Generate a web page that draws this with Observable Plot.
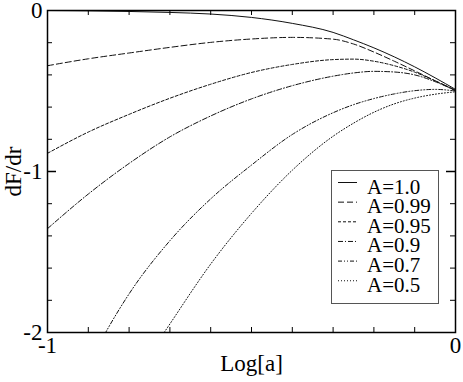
<!DOCTYPE html>
<html><head><meta charset="utf-8">
<script src="https://cdn.jsdelivr.net/npm/d3@7"></script>
<script src="https://cdn.jsdelivr.net/npm/@observablehq/plot@0.6"></script>
<style>
body{margin:0;background:#fff;}
#wrap{position:relative;width:463px;height:382px;}
#legend{position:absolute;left:331px;top:170px;width:106px;height:132px;border:1px solid #555;background:#fff;}
#legend svg{display:block;}
svg, svg text, #legend text {font-family: "Liberation Serif", "Times New Roman", Times, "DejaVu Serif", serif !important;}
</style></head><body><div id="wrap"></div>
<script>
// x values: Log[a]
const logA = [-1, -0.9, -0.8, -0.7, -0.6, -0.5, -0.4, -0.3, -0.25, -0.2, -0.15, -0.1, -0.05, 0];
// dF/dr for each A
const A_100 = [0, -0.002, -0.006, -0.012, -0.022, -0.043, -0.08, -0.136, -0.182, -0.232, -0.288, -0.35, -0.418, -0.49];
const A_099 = [-0.343, -0.30, -0.264, -0.229, -0.198, -0.177, -0.167, -0.178, -0.208, -0.258, -0.315, -0.375, -0.436, -0.495];
const A_095 = [-0.887, -0.755, -0.645, -0.545, -0.458, -0.385, -0.335, -0.305, -0.302, -0.315, -0.343, -0.383, -0.437, -0.497];
const A_090 = [-1.355, -1.14, -0.95, -0.785, -0.655, -0.549, -0.467, -0.408, -0.388, -0.378, -0.382, -0.40, -0.442, -0.498];
const A_070 = [-2.75, -2.2, -1.76, -1.43, -1.17, -0.96, -0.77, -0.635, -0.585, -0.547, -0.518, -0.498, -0.49, -0.5];
const A_050 = [-3.3, -2.8, -2.33, -1.947, -1.575, -1.26, -0.992, -0.781, -0.70, -0.632, -0.58, -0.544, -0.52, -0.505];

const seriesNames = ["A=1.0", "A=0.99", "A=0.95", "A=0.9", "A=0.7", "A=0.5"];
const seriesValues = [A_100, A_099, A_095, A_090, A_070, A_050];
const seriesDash = [null, "6,3", "3,2", "5,2,1,2", "4,2,1,2,1,2", "1,2"];

const xTickLabels = [-1, 0];
const yTickLabels = [-2, -1, 0];
const xMinorTicks = [-0.9, -0.8, -0.7, -0.6, -0.5, -0.4, -0.3, -0.2, -0.1];
const yMinorTicks = [-1.8, -1.6, -1.4, -1.2, -0.8, -0.6, -0.4, -0.2];
const yMajorTicks = [-1];

const W = 463, H = 382, mL = 47, mR = 8, mT = 10, mB = 50;
const fW = W - mL - mR, fH = H - mT - mB;
const minorLen = 5, majorLen = 9;
const serif = "Liberation Serif, Times New Roman, Times, DejaVu Serif, serif";

const lineMarks = seriesNames.map((name, i) => {
  const rows = logA.map((x, j) => ({x, y: seriesValues[i][j], name}));
  return Plot.line(rows, {x: "x", y: "y", stroke: "#111", strokeWidth: 1,
    strokeDasharray: seriesDash[i] || undefined, curve: "monotone-x", clip: true});
});

const chart = Plot.plot({
  width: W, height: H,
  marginLeft: mL, marginRight: mR, marginTop: mT, marginBottom: mB,
  x: {domain: [-1, 0]},
  y: {domain: [-2, 0]},
  style: {fontFamily: serif, fontSize: "22px", background: "#fff", color: "#000", overflow: "visible"},
  marks: [
    ...lineMarks,
    // inward ticks
    Plot.tickX(xMinorTicks, {x: d => d, insetTop: fH - minorLen, stroke: "#000"}),
    Plot.tickX(xMinorTicks, {x: d => d, insetBottom: fH - minorLen, stroke: "#000"}),
    Plot.tickY(yMinorTicks, {y: d => d, insetRight: fW - minorLen, stroke: "#000"}),
    Plot.tickY(yMinorTicks, {y: d => d, insetLeft: fW - minorLen, stroke: "#000"}),
    Plot.tickY(yMajorTicks, {y: d => d, insetRight: fW - majorLen, stroke: "#000", strokeWidth: 1.5}),
    Plot.tickY(yMajorTicks, {y: d => d, insetLeft: fW - majorLen, stroke: "#000", strokeWidth: 1.5}),
    Plot.frame({stroke: "#000", strokeWidth: 1.5}),
    Plot.axisX(xTickLabels, {tickSize: 0, tickPadding: 4, tickFormat: d => String(d), label: null, fontSize: 23, fontFamily: serif}),
    Plot.axisY(yTickLabels, {tickSize: 0, tickPadding: 5, tickFormat: d => String(d), label: null, fontSize: 23, fontFamily: serif}),
    Plot.text(["Log[a]"], {text: d => d, frameAnchor: "bottom", dy: 38, fontSize: 23, fontFamily: serif}),
    Plot.text(["dF/dr"], {text: d => d, frameAnchor: "left", dx: -34, rotate: -90, textAnchor: "middle", fontSize: 23, fontFamily: serif})
  ]
});
chart.style.display = "block";
const wrap = document.getElementById("wrap");
wrap.appendChild(chart);

// legend
const leg = document.createElement("div");
leg.id = "legend";
wrap.appendChild(leg);
const svg = d3.select(leg).append("svg").attr("width", 106).attr("height", 132);
seriesNames.forEach((name, i) => {
  const yc = 11.5 + i * 19.65;
  svg.append("line").attr("x1", 6).attr("x2", 25).attr("y1", yc).attr("y2", yc)
    .attr("stroke", "#111").attr("stroke-width", 1)
    .attr("stroke-dasharray", seriesDash[i]);
  svg.append("text").attr("x", 35).attr("y", 22.5 + i * 19.65)
    .attr("font-family", serif).attr("font-size", 21)
    .text(name);
});
</script>
</body></html>
